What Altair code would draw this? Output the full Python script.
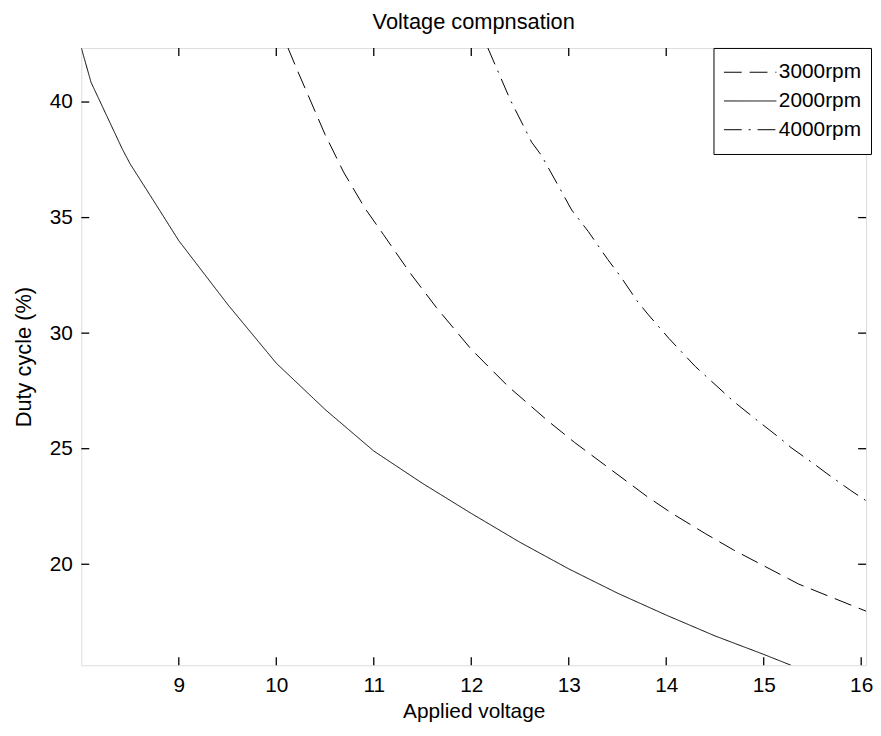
import altair as alt
import pandas as pd

# ---- data ----
x2000 = [8.0, 8.1, 8.25, 8.42, 8.5, 8.75, 9.0, 9.5, 10.0, 10.5, 11.0, 11.5, 12.0,
         12.5, 13.0, 13.5, 14.0, 14.5, 15.0, 15.28]
y2000 = [42.34, 40.85, 39.5, 37.97, 37.33, 35.67, 34.0, 31.25, 28.7, 26.7, 24.9,
         23.5, 22.2, 20.95, 19.8, 18.75, 17.8, 16.9, 16.1, 15.63]

x3000 = [10.12, 10.22, 10.33, 10.5, 10.69, 10.91, 11.1, 11.37, 11.64, 12.0, 12.38,
         12.79, 13.06, 13.4, 13.81, 14.06, 14.4, 14.69, 15.36, 16.05]
y3000 = [42.34, 41.33, 40.26, 38.6, 36.97, 35.4, 34.26, 32.62, 31.12, 29.3, 27.69,
         26.19, 25.27, 24.2, 22.91, 22.2, 21.33, 20.62, 19.14, 17.97]

x4000 = [12.17, 12.4, 12.62, 12.72, 12.89, 13.03, 13.2, 13.4, 13.54, 13.7, 13.81,
         14.03, 14.3, 14.69, 14.92, 15.18, 15.28, 15.53, 15.64, 15.89, 16.05]
y4000 = [42.34, 40.1, 38.26, 37.69, 36.4, 35.33, 34.4, 33.19, 32.4, 31.4, 30.83,
         29.76, 28.55, 27.05, 26.27, 25.41, 25.05, 24.3, 23.95, 23.2, 22.75]

series_order = ["3000rpm", "2000rpm", "4000rpm"]
x_ticks = [9, 10, 11, 12, 13, 14, 15, 16]
y_ticks = [20, 25, 30, 35, 40]
x_domain = [8, 16.05]
y_domain = [15.63, 42.34]

rows = []
for name, xs, ys in [("2000rpm", x2000, y2000), ("3000rpm", x3000, y3000), ("4000rpm", x4000, y4000)]:
    for i, (a, b) in enumerate(zip(xs, ys)):
        rows.append({"series": name, "v": a, "d": b, "i": i})
df = pd.DataFrame(rows)

W, H = 792, 623
TL = 8
FONT = "Liberation Sans"

xscale = alt.Scale(domain=x_domain, nice=False, zero=False)
yscale = alt.Scale(domain=y_domain, nice=False, zero=False)

lines = alt.Chart(df).mark_line(color="black", strokeWidth=1, clip=True).encode(
    x=alt.X("v:Q", scale=xscale,
            axis=alt.Axis(values=x_ticks, format="d", title="Applied voltage", ticks=False,
                          domain=False, grid=False, labelFontSize=21, labelFont=FONT,
                          labelColor="black", labelPadding=9, titleFontSize=21,
                          titleFont=FONT, titleFontWeight="normal", titleColor="black",
                          titlePadding=6)),
    y=alt.Y("d:Q", scale=yscale,
            axis=alt.Axis(values=y_ticks, format="d", title="Duty cycle (%)", ticks=False,
                          domain=False, grid=False, labelFontSize=21, labelFont=FONT,
                          labelColor="black", labelPadding=9, titleFontSize=22,
                          titleFont=FONT, titleFontWeight="normal", titleColor="black",
                          titlePadding=14)),
    strokeDash=alt.StrokeDash(
        "series:N",
        scale=alt.Scale(domain=series_order, range=[[18, 8], [1, 0], [18, 7, 2, 7]]),
        legend=alt.Legend(title=None, orient="none", legendX=638, legendY=0,
                          symbolType="stroke", symbolSize=2809, symbolStrokeWidth=1,
                          symbolStrokeColor="black", labelFontSize=21, labelFont=FONT,
                          labelColor="black", labelOffset=2, clipHeight=29, rowPadding=0,
                          padding=10, strokeColor="black", fillColor="white"),
    ),
    order="i:Q",
)

xt = pd.DataFrame({"t": x_ticks})
yt = pd.DataFrame({"t": y_ticks})

tick = dict(color="black", strokeWidth=1.3)

xb = alt.Chart(xt).mark_rule(**tick).encode(
    x=alt.X("t:Q", scale=xscale), y=alt.value(H - TL), y2=alt.value(H))
xtop = alt.Chart(xt).mark_rule(**tick).encode(
    x=alt.X("t:Q", scale=xscale), y=alt.value(0), y2=alt.value(TL))
yl = alt.Chart(yt).mark_rule(**tick).encode(
    y=alt.Y("t:Q", scale=yscale), x=alt.value(0), x2=alt.value(TL))
yr = alt.Chart(yt).mark_rule(**tick).encode(
    y=alt.Y("t:Q", scale=yscale), x=alt.value(W - TL), x2=alt.value(W))

chart = alt.layer(lines, xb, xtop, yl, yr).properties(
    width=W, height=H,
    title=alt.Title("Voltage compnsation", fontSize=22, font=FONT, fontWeight="normal",
                    color="black", offset=13),
    autosize=alt.AutoSizeParams(type="none"),
    padding={"left": 74, "top": 37, "right": 7, "bottom": 60},
).configure_view(stroke="black", strokeWidth=1.3).configure(background="white")

chart.save("out.html", embed_options={"renderer": "svg", "actions": False})
